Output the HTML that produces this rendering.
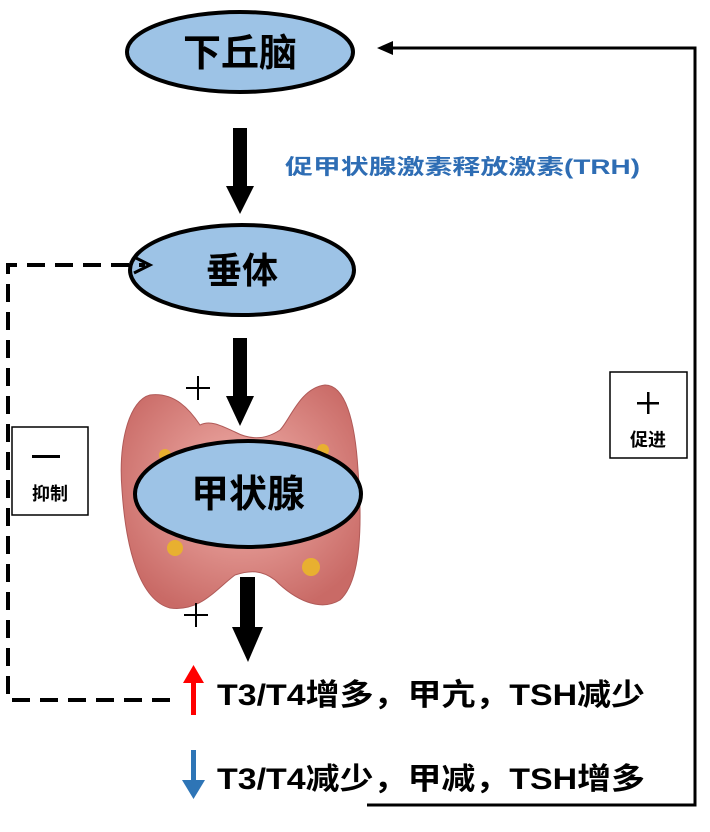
<!DOCTYPE html>
<html><head><meta charset="utf-8"><style>
body{margin:0;background:#fff}
svg text{font-family:"Liberation Sans","Noto Sans CJK SC",sans-serif;font-weight:bold}
</style></head><body>
<svg width="710" height="827" viewBox="0 0 710 827" xmlns="http://www.w3.org/2000/svg">
<defs>
<radialGradient id="g" cx="50%" cy="45%" r="60%"><stop offset="0" stop-color="#f2b3ad"/><stop offset="1" stop-color="#c96a66"/></radialGradient>
</defs>
<path d="M150,395 C130,400 118,440 122,490 C126,550 140,600 170,608 C200,612 215,590 235,575 C250,570 262,570 275,580 C295,600 320,612 340,600 C362,580 362,520 358,470 C355,420 345,385 325,385 C300,388 290,420 280,430 C265,440 250,440 235,432 C220,425 210,420 200,425 C190,410 175,392 150,395 Z" fill="url(#g)" stroke="#b05a58" stroke-width="1"/>
<circle cx="175" cy="548" r="8" fill="#e8b030"/><circle cx="311" cy="567" r="9" fill="#e8b030"/><circle cx="323" cy="450" r="6" fill="#e8b030"/><circle cx="165" cy="455" r="6" fill="#e8b030"/>
<ellipse cx="240" cy="52" rx="113" ry="40" fill="#9dc3e6" stroke="#000" stroke-width="4"/>
<text x="240" y="66" font-size="38" text-anchor="middle">下丘脑</text>
<ellipse cx="242" cy="270" rx="112" ry="45" fill="#9dc3e6" stroke="#000" stroke-width="4"/>
<text x="242" y="283" font-size="36" text-anchor="middle">垂体</text>
<ellipse cx="248" cy="494" rx="113" ry="53" fill="#9dc3e6" stroke="#000" stroke-width="4"/>
<text x="248" y="507" font-size="38" text-anchor="middle">甲状腺</text>
<rect x="233" y="128" width="14" height="60" fill="#000"/><polygon points="226,186 254,186 240,214" fill="#000"/>
<rect x="233" y="338" width="14" height="60" fill="#000"/><polygon points="226,396 254,396 240,426" fill="#000"/>
<rect x="240" y="577" width="15" height="52" fill="#000"/><polygon points="232,627 263,627 248,662" fill="#000"/>
<text x="285" y="174" font-size="21" fill="#2e6db4" textLength="355" lengthAdjust="spacingAndGlyphs">促甲状腺激素释放激素(TRH)</text>
<rect x="186" y="387" width="24" height="2" fill="#000"/><rect x="197" y="376" width="2" height="24" fill="#000"/>
<rect x="184" y="614" width="24" height="2" fill="#000"/><rect x="195" y="603" width="2" height="24" fill="#000"/>
<path d="M170,700 H8 V265 H145" fill="none" stroke="#000" stroke-width="4" stroke-dasharray="18,10"/>
<path d="M134,257 L150,265 L134,273" fill="none" stroke="#000" stroke-width="3"/>
<rect x="12" y="427" width="76" height="88" fill="#fff" stroke="#000" stroke-width="1.5"/>
<rect x="32" y="455" width="28" height="3" fill="#000"/>
<text x="50" y="500" font-size="18" text-anchor="middle">抑制</text>
<path d="M367,805 H695 V48 H385" fill="none" stroke="#000" stroke-width="3"/>
<polygon points="377,48 393,41 393,55" fill="#000"/>
<rect x="610" y="372" width="77" height="86" fill="#fff" stroke="#000" stroke-width="1.5"/>
<rect x="637" y="402" width="22" height="2.5" fill="#000"/><rect x="647" y="392" width="2.5" height="22" fill="#000"/>
<text x="648" y="446" font-size="18" text-anchor="middle">促进</text>
<rect x="191" y="680" width="5" height="35" fill="#f00"/><polygon points="183,683 204,683 193.5,665" fill="#f00"/>
<text x="217" y="705" font-size="30" textLength="428" lengthAdjust="spacingAndGlyphs">T3/T4增多，甲亢，TSH减少</text>
<rect x="191" y="750" width="5" height="32" fill="#2e75b6"/><polygon points="182,780 205,780 193.5,799" fill="#2e75b6"/>
<text x="217" y="789" font-size="30" textLength="428" lengthAdjust="spacingAndGlyphs">T3/T4减少，甲减，TSH增多</text>
</svg>
</body></html>
